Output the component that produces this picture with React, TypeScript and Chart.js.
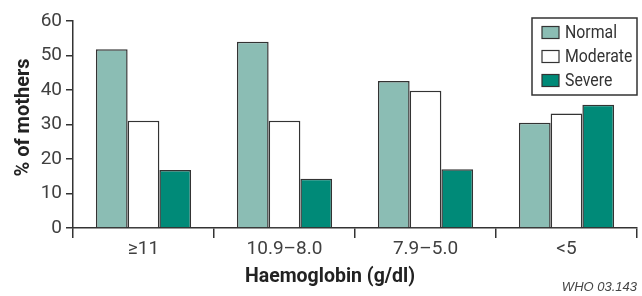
import React, { useEffect, useRef } from "react";
import { Chart, registerables } from "chart.js";

Chart.register(...registerables);

const categories = ["≥11", "10.9–8.0", "7.9–5.0", "<5"];
const seriesLabels = ["Normal", "Moderate", "Severe"];
const normalValues = [51.8, 54.0, 42.6, 30.5];
const moderateValues = [31.1, 31.1, 39.8, 33.2];
const severeValues = [16.8, 14.3, 17.0, 35.7];
const seriesColors = ["#8bbdb4", "#ffffff", "#008a78"];
const yMin = 0;
const yMax = 60;
const yStep = 10;
const xTitle = "Haemoglobin (g/dl)";
const yTitle = "% of mothers";
const sourceNote = "WHO 03.143";

const FONT = "Roboto, 'Liberation Sans', sans-serif";
const INK = "#333333";

function fitText(ctx: any, text: string, x: number, y: number, maxW: number) {
  const w = ctx.measureText(text).width;
  const s = Math.min(1, maxW / w);
  ctx.save();
  ctx.translate(x, y);
  ctx.scale(s, 1);
  ctx.fillText(text, 0, 0);
  ctx.restore();
}

const overlayPlugin = {
  id: "overlay",
  afterDraw(chart: any) {
    const ctx = chart.ctx;
    const area = chart.chartArea;
    ctx.save();
    // Legend box
    const bx = 532, by = 18, bw = 105, bh = 77;
    ctx.fillStyle = "#ffffff";
    ctx.fillRect(bx, by, bw, bh);
    ctx.strokeStyle = INK;
    ctx.lineWidth = 1.5;
    ctx.strokeRect(bx, by, bw, bh);
    chart.data.datasets.forEach((ds: any, i: number) => {
      const cy = 32.5 + i * 24;
      ctx.fillStyle = ds.backgroundColor;
      ctx.fillRect(542, cy - 6, 17, 12);
      ctx.strokeStyle = INK;
      ctx.lineWidth = 1.2;
      ctx.strokeRect(542, cy - 6, 17, 12);
      ctx.fillStyle = INK;
      ctx.font = `18px ${FONT}`;
      ctx.textAlign = "left";
      ctx.textBaseline = "middle";
      ctx.save();
      ctx.translate(565, cy + 1);
      ctx.scale(0.88, 1);
      ctx.fillText(ds.label, 0, 0);
      ctx.restore();
    });
    // Axis titles
    ctx.fillStyle = "#222222";
    ctx.font = `bold 20px ${FONT}`;
    ctx.textAlign = "center";
    ctx.textBaseline = "middle";
    fitText(ctx, xTitle, 330, 277, 170);
    ctx.save();
    ctx.translate(24, 117.5);
    ctx.rotate(-Math.PI / 2);
    fitText(ctx, yTitle, 0, 0, 119);
    ctx.restore();
    // Source note
    ctx.font = `italic 13px 'Liberation Sans', sans-serif`;
    ctx.fillStyle = "#444444";
    ctx.textAlign = "right";
    ctx.textBaseline = "alphabetic";
    ctx.fillText(sourceNote, area.right, 291);
    ctx.restore();
  },
};

export default function App() {
  const ref = useRef<HTMLCanvasElement | null>(null);
  useEffect(() => {
    if (!ref.current) return;
    const values = [normalValues, moderateValues, severeValues];
    const chart = new Chart(ref.current, {
      type: "bar",
      data: {
        labels: categories,
        datasets: seriesLabels.map((label, i) => ({
          label,
          data: values[i],
          backgroundColor: seriesColors[i],
          borderColor: INK,
          borderWidth: 1.5,
          categoryPercentage: 0.675,
          barPercentage: 1,
        })),
      },
      options: {
        animation: false,
        responsive: false,
        layout: { padding: { left: 0, top: 21, right: 5, bottom: 0 } },
        plugins: { legend: { display: false }, tooltip: { enabled: false } },
        scales: {
          x: {
            grid: {
              offset: true,
              drawOnChartArea: false,
              drawTicks: true,
              tickLength: 10,
              color: INK,
              lineWidth: 1.5,
            },
            border: { color: INK, width: 1.5 },
            ticks: {
              color: "#404040",
              font: { family: FONT, size: 19 },
              padding: 0,
            },
            afterFit(scale: any) {
              scale.height = 68;
            },
          },
          y: {
            min: yMin,
            max: yMax,
            grid: {
              drawOnChartArea: false,
              drawTicks: true,
              tickLength: 7,
              color: INK,
              lineWidth: 1.5,
            },
            border: { color: INK, width: 1.5 },
            ticks: {
              stepSize: yStep,
              color: "#404040",
              font: { family: FONT, size: 19 },
              padding: 4,
            },
            afterFit(scale: any) {
              scale.width = 73;
            },
          },
        },
      },
      plugins: [overlayPlugin],
    });
    return () => chart.destroy();
  }, []);
  return (
    <div style={{ position: "absolute", left: 0, top: 0, width: 642, height: 296, background: "#fff" }}>
      <canvas ref={ref} width={642} height={296} />
    </div>
  );
}
